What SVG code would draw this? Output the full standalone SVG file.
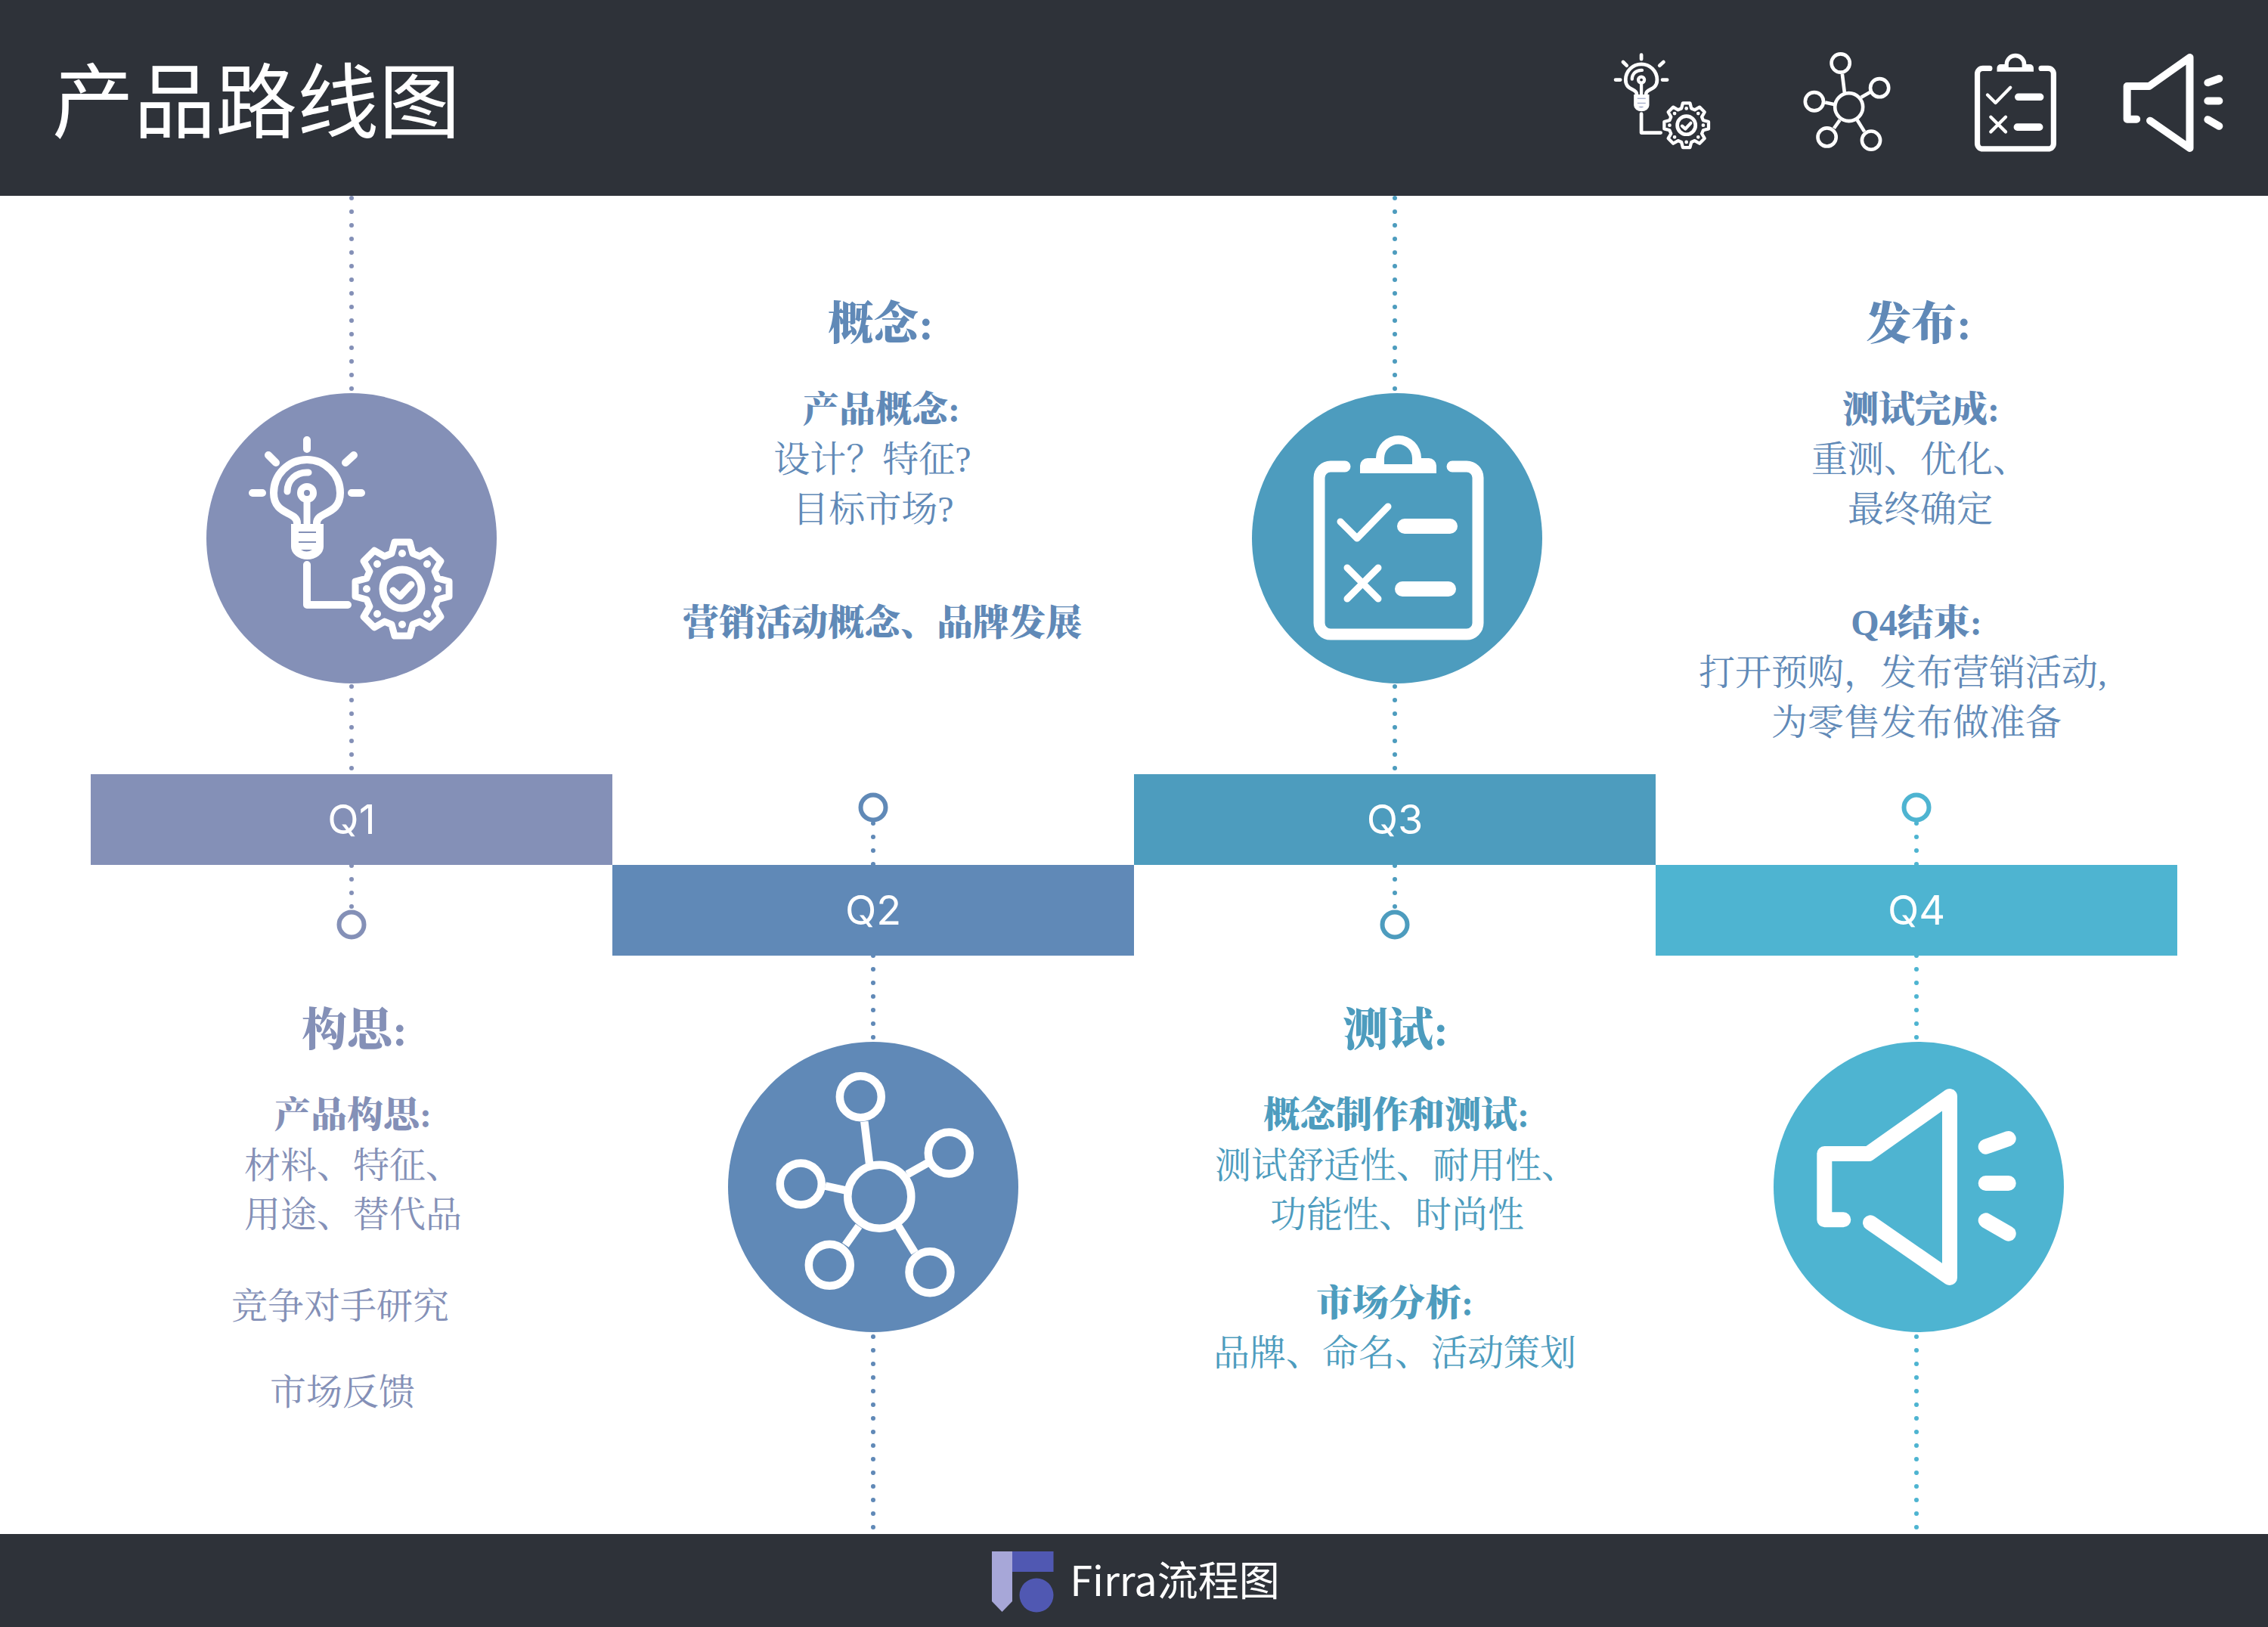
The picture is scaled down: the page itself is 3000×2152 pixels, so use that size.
<svg xmlns="http://www.w3.org/2000/svg" width="3000" height="2152" viewBox="0 0 3000 2152">
<defs><style>
text{font-family:"Liberation Serif","Noto Serif CJK SC","Noto Sans CJK SC",serif;text-anchor:middle}
.hd{font-size:60px;font-weight:900}.b{font-size:48px;font-weight:900}.n{font-size:48px}
.q{font-family:"Inter","Noto Sans CJK SC",sans-serif;font-size:54px;fill:#fff}
.d{fill:none;stroke-width:6;stroke-linecap:round;stroke-dasharray:0 18}
.o{fill:#fff;stroke-width:6}
.i{fill:none;stroke:#fff;stroke-linecap:round;stroke-linejoin:round}
.c1{fill:#8490b7}.c2{fill:#6089b7}.c3{fill:#4d9cbe}.c4{fill:#4eb4d1}
.s1{stroke:#8490b7}.s2{stroke:#6089b7}.s3{stroke:#4d9cbe}.s4{stroke:#4eb4d1}
</style>
<g id="bulb">
<g class="i" stroke-width="10">
<path d="M-59-130v12M-110-110l10 10M3-110l-11 10M-131-60h13M0-60h13"/>
<path d="M-72-20c0-16-31-10-31-40a44 44 0 0 1 88 0c0 30-31 24-31 40"/>
<path d="M-85-62c0-15 12-26 28-25" stroke-width="9"/>
<circle cx="-59" cy="-60" r="8.500" stroke-width="9"/><path d="M-59-50v30" stroke-width="9"/>
<path d="M-59 35v53h54"/>
</g>
<path fill="#fff" d="M-80-19h43v30a21.500 17 0 0 1-43 0z"/>
<path d="M-70-8h23M-70 5h23" stroke="#8490b7" stroke-width="2" fill="none"/>
<path d="M-67 15q7.500 5 15 0z" fill="#8490b7"/>
<g class="i" stroke-width="9" transform="translate(67 67)">
<path d="M-14-47L-10-62H10L14-47L23.300-43.100L36.800-50.900L50.900-36.800L43.100-23.300L47-14L62-10V10L47 14L43.100 23.300L50.900 36.800L36.800 50.900L23.300 43.100L14 47L10 62H-10L-14 47L-23.300 43.100L-36.800 50.900L-50.900 36.800L-43.100 23.300L-47 14L-62 10V-10L-47-14L-43.100-23.300L-50.900-36.800L-36.800-50.900L-23.300-43.100Z"/>
<path d="M0-47h0M33-33h0M47 0h0M33 33h0M0 47h0M-33 33h0M-47 0h0M-33-33h0" stroke-width="10"/>
<circle r="25.500" stroke-width="10"/><path d="M-12 2l9 8 15-16"/>
</g>
</g>
<g id="net" class="i" stroke-width="10.500">
<circle cx="8.300" cy="12.700" r="42"/>
<circle cx="-16.700" cy="-119.300" r="27.500"/><circle cx="100.300" cy="-45" r="27.500"/><circle cx="-95.700" cy="-4" r="27.500"/><circle cx="-57.700" cy="103.300" r="27.500"/><circle cx="75" cy="112.700" r="27.500"/>
<path stroke-linecap="butt" d="M-11.700-86.700L-5-31.700M45-16.700L71.700-31.700M-63.300-1.300L-36.700 4.300M-19 51.700L-36.700 76.700M33.300 51.700L55 86.700"/>
</g>
<g id="clip">
<path class="i" stroke-width="15" stroke-linecap="butt" d="M-69-95h-19a15 15 0 0 0-15 15v192a15 15 0 0 0 15 15h180a15 15 0 0 0 15-15v-192a15 15 0 0 0-15-15h-19"/>
<path fill="#fff" fill-rule="evenodd" d="M-49-86v-10a10 10 0 0 1 10-10h11a30 30 0 0 1 60 0h10a10 10 0 0 1 10 10v10zM-17-98h37v-8a18.500 18.500 0 0 0-37 0z"/>
<path class="i" stroke-width="9" d="M-75-22L-53 0L-12-42M-66 39L-25 80M-25 39L-66 80"/>
<path class="i" stroke-width="20" d="M10-16H70M7 67H68"/>
</g>
<g id="spk" class="i" stroke-width="20">
<path d="M-99.700 43.300H-124.700V-44H-66.300L41-120V120L-64 47.300"/>
<path d="M88.700-53.300L118.700-64M88.700-5H118.700M88.700 44.300L118.700 61.700"/>
</g>
</defs>
<rect width="3000" height="2152" fill="#fff"/>
<rect id="header" width="3000" height="259" fill="#2e3239"/>
<text x="69" y="174" style="font-family:'Noto Sans CJK SC',sans-serif;font-size:108px;fill:#fff;text-anchor:start">产品路线图</text>
<g id="header-icons">
<use href="#bulb" transform="translate(2199 134) scale(.473)"/>
<use href="#net" transform="translate(2442 136) scale(.44)"/>
<use href="#clip" transform="translate(2665 136) scale(.48)"/>
<use href="#spk" transform="translate(2876 136) scale(.5)"/>
</g>
<g id="connectors">
<path class="d s1" d="M465 262V520M465 908V1024M465 1145V1200"/>
<path class="d s2" d="M1155 1089V1144M1155 1264V1378M1155 1768V2027"/>
<path class="d s3" d="M1845 262V520M1845 908V1024M1845 1145V1200"/>
<path class="d s4" d="M2535 1089V1144M2535 1264V1378M2535 1768V2027"/>
</g>
<g id="q1"><rect class="c1" x="120" y="1024" width="690" height="120"/><text class="q" x="465" y="1103">Q1</text></g>
<g id="q2"><rect class="c2" x="810" y="1144" width="690" height="120"/><text class="q" x="1155" y="1223">Q2</text></g>
<g id="q3"><rect class="c3" x="1500" y="1024" width="690" height="120"/><text class="q" x="1845" y="1103">Q3</text></g>
<g id="q4"><rect class="c4" x="2190" y="1144" width="690" height="120"/><text class="q" x="2535" y="1223">Q4</text></g>
<g id="dot1"><circle class="o s1" cx="465" cy="1223" r="16.500"/></g>
<g id="dot2"><circle class="o s2" cx="1155" cy="1068" r="16.500"/></g>
<g id="dot3"><circle class="o s3" cx="1845" cy="1223" r="16.500"/></g>
<g id="dot4"><circle class="o s4" cx="2535" cy="1068" r="16.500"/></g>
<g id="icon1"><circle class="c1" cx="465" cy="712" r="192"/><use href="#bulb" transform="translate(465 712)"/></g>
<g id="icon2"><circle class="c2" cx="1155" cy="1570" r="192"/><use href="#net" transform="translate(1155 1570)"/></g>
<g id="icon3"><circle class="c3" cx="1848" cy="712" r="192"/><use href="#clip" transform="translate(1848 712)"/></g>
<g id="icon4"><circle class="c4" cx="2538" cy="1570" r="192"/><use href="#spk" transform="translate(2538 1570)"/></g>
<g id="t1" class="c1">
<text class="hd" x="469" y="1383">构思:</text>
<text class="b" x="467" y="1491">产品构思:</text>
<text class="n" x="467" y="1558">材料、特征、</text>
<text class="n" x="467" y="1623">用途、替代品</text>
<text class="n" x="450" y="1744">竞争对手研究</text>
<text class="n" x="453" y="1858">市场反馈</text>
</g>
<g id="t2" class="c2">
<text class="hd" x="1165" y="449">概念:</text>
<text class="b" x="1166" y="558">产品概念:</text>
<text class="n" x="1154" y="624">设计？特征?</text>
<text class="n" x="1155" y="690">目标市场?</text>
<text class="b" x="1167" y="840">营销活动概念、品牌发展</text>
</g>
<g id="t3" class="c3">
<text class="hd" x="1846" y="1383">测试:</text>
<text class="b" x="1847" y="1491">概念制作和测试:</text>
<text class="n" x="1847" y="1558">测试舒适性、耐用性、</text>
<text class="n" x="1848" y="1623">功能性、时尚性</text>
<text class="b" x="1845" y="1740">市场分析:</text>
<text class="n" x="1845" y="1806">品牌、命名、活动策划</text>
</g>
<g id="t4" class="c2">
<text class="hd" x="2538" y="449">发布:</text>
<text class="b" x="2541" y="558">测试完成:</text>
<text class="n" x="2540" y="624">重测、优化、</text>
<text class="n" x="2540" y="690">最终确定</text>
<text class="b" x="2535" y="840">Q4结束:</text>
<text class="n" x="2517" y="906">打开预购，发布营销活动,</text>
<text class="n" x="2535" y="972">为零售发布做准备</text>
</g>
<rect id="footer" y="2029" width="3000" height="123" fill="#2e3239"/>
<g id="logo">
<path fill="#a7a7d8" d="M1312 2052h27v66l-13.500 14-13.500-14z"/>
<rect fill="#5058b2" x="1339" y="2052" width="54.500" height="27"/>
<circle fill="#5058b2" cx="1371" cy="2110" r="22.500"/>
<text x="1554" y="2111" style="font-family:'Noto Sans CJK SC',sans-serif;font-size:54px;fill:#fff">Firra流程图</text>
</g>
</svg>
